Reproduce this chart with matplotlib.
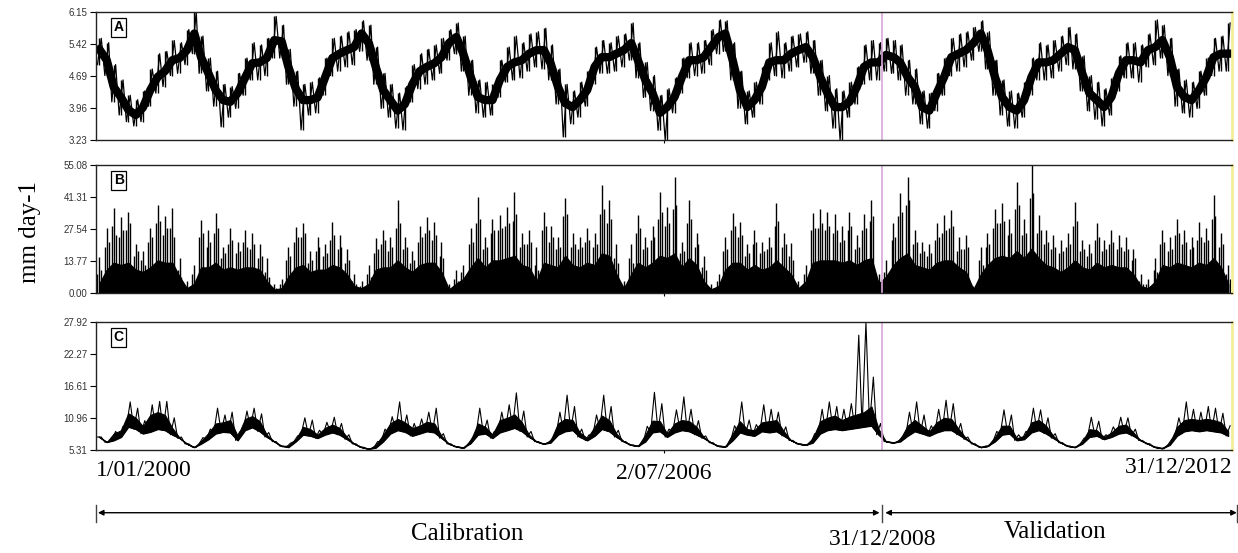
import numpy as np
import pandas as pd
import matplotlib
matplotlib.use('Agg')
import matplotlib.pyplot as plt
import matplotlib.dates as mdates
import matplotlib.transforms as mtransforms

# monthly values, Jan 2000 .. Dec 2012 (one row per year)
months = pd.date_range('2000-01-01', periods=156, freq='MS') + pd.Timedelta(days=14)

# panel A: core level, monthly high and low hairs
a_mid = [5.30, 5.05, 4.44, 4.20, 3.92, 3.80, 3.97, 4.37, 4.67, 4.80, 5.05, 5.10,
         5.28, 5.66, 5.12, 4.75, 4.37, 4.14, 4.10, 4.30, 4.65, 4.98, 5.00, 5.10,
         5.51, 5.48, 4.90, 4.40, 4.14, 4.14, 4.20, 4.65, 5.10, 5.20, 5.28, 5.35,
         5.66, 5.43, 4.90, 4.37, 4.14, 3.90, 4.05, 4.50, 4.80, 4.90, 4.98, 5.12,
         5.44, 5.58, 5.20, 4.67, 4.21, 4.14, 4.14, 4.60, 4.90, 5.00, 5.05, 5.20,
         5.28, 5.28, 4.98, 4.44, 4.07, 3.98, 4.14, 4.37, 4.90, 5.12, 5.12, 5.20,
         5.28, 5.44, 5.05, 4.60, 4.30, 3.85, 3.98, 4.21, 4.67, 5.05, 5.05, 5.12,
         5.35, 5.58, 5.66, 5.05, 4.37, 3.98, 4.14, 4.44, 5.00, 5.05, 5.05, 5.20,
         5.28, 5.35, 5.12, 4.67, 4.30, 3.98, 3.98, 4.10, 4.44, 4.90, 5.00, 5.00,
         5.17, 5.12, 5.00, 4.67, 4.44, 3.98, 3.90, 4.30, 4.67, 5.12, 5.20, 5.28,
         5.44, 5.66, 5.28, 4.67, 4.21, 3.98, 3.90, 4.14, 4.67, 5.00, 5.00, 5.05,
         5.20, 5.35, 5.28, 4.75, 4.30, 4.14, 3.98, 4.21, 4.75, 5.05, 5.05, 5.00,
         5.28, 5.35, 5.51, 5.12, 4.44, 4.21, 4.14, 4.37, 4.67, 5.12, 5.20, 5.20]
a_max = [5.55, 5.45, 4.95, 4.60, 4.25, 4.15, 4.35, 4.85, 5.20, 5.25, 5.50, 5.45,
         5.75, 6.15, 5.60, 5.10, 4.80, 4.50, 4.45, 4.75, 5.10, 5.45, 5.40, 5.55,
         6.05, 5.85, 5.30, 4.80, 4.50, 4.55, 4.65, 5.10, 5.55, 5.60, 5.70, 5.75,
         5.95, 5.85, 5.35, 4.75, 4.50, 4.30, 4.45, 4.95, 5.20, 5.30, 5.40, 5.55,
         5.75, 5.90, 5.60, 5.05, 4.60, 4.55, 4.50, 5.05, 5.35, 5.60, 5.45, 5.65,
         5.70, 5.78, 5.40, 4.85, 4.50, 4.35, 4.55, 4.80, 5.35, 5.50, 5.45, 5.60,
         5.65, 5.90, 5.45, 5.00, 4.70, 4.25, 4.40, 4.65, 5.10, 5.45, 5.45, 5.50,
         5.75, 5.97, 5.95, 5.45, 4.80, 4.35, 4.55, 4.90, 5.45, 5.70, 5.45, 5.60,
         5.65, 5.70, 5.50, 5.05, 4.70, 4.40, 4.35, 4.55, 4.90, 5.40, 5.50, 5.45,
         5.55, 5.50, 5.40, 5.05, 4.85, 4.35, 4.30, 4.75, 5.10, 5.55, 5.65, 5.70,
         5.80, 5.95, 5.70, 5.05, 4.60, 4.35, 4.30, 4.55, 5.10, 5.45, 5.40, 5.50,
         5.60, 5.80, 5.65, 5.15, 4.70, 4.55, 4.40, 4.65, 5.15, 5.45, 5.45, 5.40,
         5.65, 5.97, 5.85, 5.55, 4.85, 4.60, 4.55, 4.80, 5.10, 5.55, 5.60, 5.90]
a_min = [4.95, 4.70, 4.10, 3.80, 3.65, 3.55, 3.65, 4.00, 4.30, 4.45, 4.70, 4.75,
         4.95, 5.20, 4.75, 4.35, 4.00, 3.53, 3.75, 3.95, 4.25, 4.60, 4.60, 4.70,
         5.10, 5.10, 4.50, 4.00, 3.46, 3.80, 3.85, 4.25, 4.70, 4.80, 4.90, 4.95,
         5.25, 5.05, 4.50, 3.95, 3.75, 3.50, 3.46, 4.10, 4.40, 4.50, 4.60, 4.75,
         5.05, 5.20, 4.80, 4.25, 3.85, 3.75, 3.80, 4.20, 4.55, 4.60, 4.65, 4.80,
         4.90, 4.85, 4.60, 4.05, 3.30, 3.60, 3.75, 4.00, 4.50, 4.75, 4.75, 4.80,
         4.90, 5.05, 4.65, 4.20, 3.90, 3.45, 3.23, 3.85, 4.30, 4.65, 4.70, 4.75,
         4.95, 5.20, 5.25, 4.60, 3.95, 3.60, 3.75, 4.05, 4.60, 4.70, 4.65, 4.80,
         4.90, 5.00, 4.75, 4.25, 3.90, 3.50, 3.23, 3.75, 4.05, 4.50, 4.60, 4.60,
         4.80, 4.75, 4.60, 4.25, 4.05, 3.60, 3.50, 3.90, 4.25, 4.70, 4.80, 4.90,
         5.05, 5.25, 4.85, 4.25, 3.80, 3.55, 3.50, 3.75, 4.25, 4.60, 4.60, 4.65,
         4.80, 4.95, 4.85, 4.35, 3.90, 3.70, 3.55, 3.80, 4.35, 4.65, 4.65, 4.55,
         4.90, 4.95, 5.10, 4.70, 4.00, 3.85, 3.75, 3.95, 4.25, 4.70, 4.80, 4.80]

# panel B: dense level and the three biggest spikes of each month
b_top = [4, 10, 13, 12, 13, 10, 9, 11, 14, 13, 13, 7,
         2, 4, 11, 11, 13, 10, 11, 10, 11, 11, 10, 5,
         1.5, 2, 7, 11, 12, 9, 10, 10, 12, 11, 8, 3,
         2, 4, 10, 11, 11, 14, 11, 9, 12, 13, 13, 9,
         1.5, 4, 6, 11, 15, 11, 14, 14, 15, 16, 12, 11,
         5, 13, 12, 11, 16, 12, 11, 13, 12, 17, 16, 8,
         2, 8, 13, 11, 13, 16, 15, 17, 11, 15, 12, 5,
         1.5, 3, 10, 13, 13, 10, 12, 10, 11, 14, 11, 8,
         2, 5, 13, 14, 14, 14, 13, 14, 12, 14, 15, 4,
         7, 12, 15, 17, 12, 11, 10, 13, 14, 14, 11, 9,
         1.5, 8, 12, 15, 16, 15, 18, 15, 19, 15, 12, 11,
         9, 11, 14, 11, 10, 13, 11, 12, 11, 11, 8, 3,
         2, 5, 12, 11, 13, 12, 11, 13, 12, 15, 11, 4]
b_peak = [15.5, 28, 36.6, 32.7, 35, 21, 18, 28, 37.9, 33, 36.6, 15,
          5, 12, 31.4, 27, 34.4, 20, 28, 22, 27, 25.8, 21, 15,
          4, 6, 20, 28.4, 30, 18, 24, 21, 30.5, 25, 19, 8,
          5, 12, 23.7, 27, 24, 40, 24, 18, 29, 32.7, 30.5, 22,
          4, 10, 12, 28, 41.3, 24, 32, 33.6, 37, 43.5, 26, 27,
          20, 35, 29, 24, 40.8, 26, 24, 28, 26, 46.5, 40, 21,
          5, 21, 33.6, 24, 29, 43.5, 37, 50, 22, 40, 26, 16,
          4, 8, 24, 34.4, 30.5, 21, 27, 22, 24, 38.7, 26, 21.5,
          5, 12, 34.4, 36, 35, 34, 29, 35, 25, 34, 40, 8,
          14, 30, 43, 50, 27, 22, 21, 30, 33.6, 35.6, 24, 25,
          3, 20, 26, 36, 38.7, 32, 47.8, 32, 55, 33.6, 27, 25,
          23, 26, 39, 23, 21, 30, 23, 27, 25, 24, 19, 8,
          6, 15, 27, 24, 32, 27, 24, 30.5, 28, 42, 26, 12]
b_peak2 = [8, 20, 29, 24, 27, 16, 14, 22, 30, 25, 28, 10,
           3, 8, 24, 20, 26, 15, 21, 17, 22, 19, 15, 9,
           2.5, 4, 14, 22, 24, 13, 18, 16, 23, 19, 13, 5,
           3, 8, 17, 21, 18, 28, 19, 13, 22, 26, 23, 16,
           2.5, 6, 9, 21, 30, 19, 26, 27, 29, 31, 20, 21,
           12, 27, 22, 19, 33, 20, 19, 22, 20, 34, 30, 15,
           3, 15, 26, 19, 23, 32, 29, 36, 17, 30, 20, 11,
           2.5, 5, 18, 27, 24, 16, 21, 17, 19, 29, 20, 16,
           3, 8, 27, 28, 27, 26, 22, 27, 19, 27, 31, 5,
           9, 23, 33, 38, 21, 17, 16, 23, 26, 28, 18, 19,
           2, 14, 20, 28, 30, 25, 36, 25, 41, 26, 21, 19,
           17, 20, 29, 18, 16, 23, 18, 21, 19, 18, 14, 5,
           4, 10, 21, 18, 25, 21, 19, 23, 22, 32, 20, 8]
b_peak3 = [10, 22, 25, 27, 30, 18, 12, 24, 31, 28, 24, 7,
           2, 6, 26, 22, 28, 17, 23, 18, 20, 21, 16, 7,
           2, 3, 16, 24, 26, 14, 20, 17, 25, 20, 14, 4,
           2.5, 7, 19, 23, 20, 30, 20, 14, 24, 27, 25, 15,
           2, 5, 7, 22, 32, 20, 27, 28, 30, 34, 21, 22,
           10, 29, 24, 20, 34, 21, 20, 23, 21, 36, 32, 13,
           2.5, 13, 28, 20, 24, 35, 30, 38, 18, 32, 21, 10,
           2, 4, 19, 29, 25, 17, 22, 18, 20, 31, 21, 14,
           2.5, 7, 28, 30, 29, 27, 23, 29, 20, 28, 33, 4,
           8, 24, 35, 40, 22, 18, 17, 24, 27, 29, 19, 20,
           1.5, 12, 21, 30, 31, 26, 38, 26, 43, 27, 22, 20,
           18, 21, 31, 19, 17, 24, 19, 22, 20, 19, 15, 4,
           3, 9, 22, 19, 26, 22, 20, 24, 23, 33, 21, 6]

# panel C: smooth base line, top of the dense bursts, highest spike
c_base = [7.6, 6.7, 7.0, 7.6, 9.4, 9.0, 8.2, 8.5, 9.0, 8.8, 8.0, 7.4,
          6.4, 5.8, 6.4, 7.2, 8.2, 8.5, 8.4, 7.0, 8.8, 9.3, 8.6, 7.6,
          6.8, 6.0, 5.8, 6.8, 8.0, 7.8, 7.4, 8.0, 8.4, 8.0, 7.2, 6.4,
          5.8, 5.5, 5.7, 6.8, 8.2, 8.8, 8.5, 7.8, 8.2, 8.6, 8.4, 7.4,
          6.4, 5.9, 5.7, 6.5, 8.0, 8.2, 7.4, 8.4, 8.8, 9.2, 8.6, 7.6,
          6.8, 6.4, 6.6, 8.0, 8.6, 8.8, 7.6, 7.0, 7.8, 9.0, 8.6, 7.6,
          6.8, 6.2, 6.0, 6.8, 8.4, 8.6, 7.6, 8.4, 8.8, 8.6, 8.0, 7.4,
          6.6, 6.0, 5.9, 7.0, 8.4, 8.0, 7.8, 8.6, 8.4, 8.6, 7.8, 7.0,
          6.4, 6.2, 6.6, 8.2, 8.8, 9.0, 8.8, 9.0, 9.2, 9.4, 9.6, 8.0,
          6.8, 6.6, 6.8, 7.8, 8.6, 8.2, 7.8, 8.4, 8.8, 8.8, 8.0, 7.2,
          6.4, 5.8, 6.0, 6.8, 8.0, 8.2, 7.0, 7.2, 8.4, 8.8, 8.2, 7.4,
          6.6, 6.0, 5.8, 6.4, 7.6, 7.8, 7.2, 7.6, 8.2, 8.4, 7.8, 7.0,
          6.4, 5.8, 5.6, 6.2, 7.8, 8.6, 8.8, 8.6, 8.8, 8.6, 8.4, 7.8]
c_top = [7.6, 6.7, 8.2, 8.8, 11.8, 11.0, 9.5, 11.5, 12.0, 11.5, 9.2, 7.5,
         6.4, 5.8, 6.9, 8.3, 10.0, 10.2, 10.6, 7.8, 10.8, 11.3, 10.4, 8.0,
         6.8, 6.0, 6.1, 7.2, 9.4, 9.0, 8.0, 9.2, 9.8, 9.2, 7.6, 6.4,
         5.8, 5.5, 6.2, 8.0, 10.0, 10.8, 10.2, 9.2, 9.6, 10.3, 10.0, 7.8,
         6.4, 5.9, 5.7, 7.0, 10.0, 9.4, 8.0, 10.6, 11.0, 11.6, 10.2, 8.0,
         6.8, 6.4, 7.0, 10.0, 10.8, 10.6, 8.4, 7.4, 9.4, 11.4, 10.6, 8.2,
         6.8, 6.2, 6.0, 8.0, 10.5, 10.4, 8.2, 10.0, 10.6, 10.4, 9.4, 7.6,
         6.6, 6.0, 5.9, 8.2, 10.4, 9.0, 8.8, 10.2, 10.4, 10.6, 8.6, 7.0,
         6.4, 6.2, 7.4, 10.4, 11.0, 11.4, 10.6, 11.2, 11.6, 12.0, 13.0, 9.0,
         6.8, 6.6, 7.2, 9.6, 10.6, 9.6, 8.6, 10.2, 11.0, 10.8, 9.0, 7.4,
         6.4, 5.8, 6.0, 7.6, 9.6, 9.6, 7.4, 7.8, 10.2, 10.6, 9.6, 7.8,
         6.6, 6.0, 5.8, 6.8, 9.0, 8.8, 7.6, 8.4, 9.6, 9.8, 8.4, 7.0,
         6.4, 5.8, 5.6, 6.6, 9.4, 10.6, 10.8, 10.6, 10.8, 10.6, 10.2, 8.6]
c_peak = [7.6, 6.7, 8.6, 9.5, 13.8, 12.7, 10.5, 13.3, 13.9, 13.9, 11.0, 7.6,
          6.4, 5.8, 7.5, 9.0, 12.7, 11.5, 12.0, 8.5, 12.2, 12.7, 11.7, 8.4,
          6.8, 6.0, 6.5, 7.8, 11.0, 10.6, 8.8, 10.2, 11.1, 10.0, 8.0, 6.4,
          5.8, 5.5, 6.8, 9.0, 11.2, 13.8, 11.5, 10.0, 10.8, 12.0, 12.7, 8.2,
          6.4, 5.9, 5.7, 7.5, 12.7, 10.6, 8.6, 12.0, 13.3, 15.4, 12.2, 8.6,
          6.8, 6.4, 7.4, 12.0, 15.0, 13.0, 9.0, 8.0, 11.5, 15.0, 13.0, 8.8,
          6.8, 6.2, 6.0, 9.5, 15.5, 13.5, 9.0, 12.4, 14.7, 12.5, 10.5, 7.8,
          6.6, 6.0, 5.9, 9.6, 13.8, 10.6, 9.8, 13.3, 12.5, 12.0, 9.4, 7.0,
          6.4, 6.2, 8.2, 12.5, 13.8, 13.0, 12.5, 13.5, 25.6, 27.9, 18.2, 10.0,
          6.8, 6.6, 7.6, 12.0, 13.8, 11.5, 9.6, 12.5, 14.1, 13.5, 10.0, 7.6,
          6.4, 5.8, 6.0, 8.6, 12.4, 11.5, 8.0, 8.6, 12.7, 12.4, 11.0, 8.2,
          6.6, 6.0, 5.8, 7.4, 11.1, 10.4, 8.0, 9.4, 11.1, 11.0, 9.0, 7.0,
          6.4, 5.8, 5.6, 7.2, 11.0, 13.8, 12.5, 12.0, 13.0, 12.7, 11.8, 9.6]

a_ticks = [3.23, 3.96, 4.69, 5.42, 6.15]
b_ticks = [0.00, 13.77, 27.54, 41.31, 55.08]
c_ticks = [5.31, 10.96, 16.61, 22.27, 27.92]

start = pd.Timestamp('2000-01-01')
mid = pd.Timestamp('2006-07-02')
split = pd.Timestamp('2008-12-31')
end = pd.Timestamp('2012-12-31')

t = mdates.date2num(months.to_pydatetime())
t_early = mdates.date2num((months - pd.Timedelta(days=8)).to_pydatetime())
t_late = mdates.date2num((months + pd.Timedelta(days=8)).to_pydatetime())

fig = plt.figure(figsize=(12.38, 5.53), dpi=100)
left, width, height = 96 / 1238, 1136 / 1238, 128 / 553
axA = fig.add_axes([left, 1 - 140 / 553, width, height])
axB = fig.add_axes([left, 1 - 293 / 553, width, height])
axC = fig.add_axes([left, 1 - 450 / 553, width, height])

# A: thick core plus a min/max zigzag for the daily noise
axA.plot(t, a_mid, color='black', lw=6, solid_joinstyle='round')
zig_t = np.ravel(np.column_stack([t_early, t_late]))
zig_v = np.ravel(np.column_stack([a_min, a_max]))
axA.plot(zig_t, zig_v, color='black', lw=0.9)
axA.vlines(t, a_min, a_max, color='black', lw=1)

# B
axB.fill_between(t, 0, b_top, color='black', lw=1)
axB.vlines(t_early, 0, b_peak2, color='black', lw=1)
axB.vlines(t, 0, b_peak, color='black', lw=1)
axB.vlines(t_late, 0, b_peak3, color='black', lw=1)

# C
zig_c = np.ravel(np.column_stack([c_base, c_peak]))
axC.fill_between(t, c_base, c_top, color='black', lw=0.8)
axC.plot(t, c_base, color='black', lw=0.8)
axC.plot(zig_t, zig_c, color='black', lw=0.8)

for ax, ticks, lab in [(axA, a_ticks, 'A'), (axB, b_ticks, 'B'), (axC, c_ticks, 'C')]:
    ax.set_xlim(mdates.date2num(start), mdates.date2num(end))
    ax.set_ylim(ticks[0], ticks[-1])
    ax.set_yticks(ticks)
    ax.set_yticklabels(['%.2f' % v for v in ticks])
    ax.set_xticks([mdates.date2num(mid)])
    ax.set_xticklabels([])
    ax.tick_params(axis='y', direction='out', length=4, width=0.8, labelsize=7,
                   labelcolor='#333333', pad=2)
    ax.tick_params(axis='x', direction='out', length=2, width=0.8)
    for lbl in ax.get_yticklabels():
        lbl.set_family('Liberation Sans')
    for s in ['top', 'left', 'bottom']:
        ax.spines[s].set_color('#222222')
        ax.spines[s].set_linewidth(1.0)
    ax.spines['right'].set_color('#f3ee9a')
    ax.spines['right'].set_linewidth(2)
    ax.axvline(mdates.date2num(split), color='#d9a6dc', lw=1.2)
    ax.text(0.020, 0.88, lab, transform=ax.transAxes, fontsize=10, fontweight='bold',
            family='Liberation Sans', ha='center', va='center',
            bbox=dict(boxstyle='square,pad=0.2', fc='white', ec='black', lw=0.9))

fig.text(0.024, 0.58, 'mm day-1', rotation=90, family='Liberation Serif',
         fontsize=18, ha='center', va='center')

# dates and calibration / validation arrows under panel C
tr = mtransforms.blended_transform_factory(axC.transData, axC.transAxes)
serif = dict(family='Liberation Serif', fontsize=17, transform=tr)
axC.text(mdates.date2num(start), -0.16, '1/01/2000', ha='left', va='center', **serif)
axC.text(mdates.date2num(mid), -0.18, '2/07/2006', ha='center', va='center', **serif)
axC.text(mdates.date2num(end), -0.14, '31/12/2012', ha='right', va='center', **serif)
axC.text(mdates.date2num(split), -0.70, '31/12/2008', ha='center', va='center', **serif)
axC.text(0.327, -0.66, 'Calibration', ha='center', va='center', family='Liberation Serif',
         fontsize=18, transform=axC.transAxes)
axC.text(0.844, -0.64, 'Validation', ha='center', va='center', family='Liberation Serif',
         fontsize=18, transform=axC.transAxes)

arrow = dict(arrowstyle='<|-|>', color='black', lw=1, mutation_scale=8, shrinkA=0, shrinkB=0)
x0, xs, x1 = (mdates.date2num(d) for d in (start, split, end))
axC.annotate('', xy=(xs - 12, -0.49), xytext=(x0 + 8, -0.49), xycoords=tr, textcoords=tr,
             arrowprops=arrow, annotation_clip=False)
axC.annotate('', xy=(x1 + 20, -0.49), xytext=(xs + 12, -0.49), xycoords=tr, textcoords=tr,
             arrowprops=arrow, annotation_clip=False)
for xv in (x0, xs, x1 + 22):
    axC.plot([xv, xv], [-0.43, -0.56], color='#444444', lw=1, transform=tr, clip_on=False)

fig.savefig('out.png', dpi=100)
